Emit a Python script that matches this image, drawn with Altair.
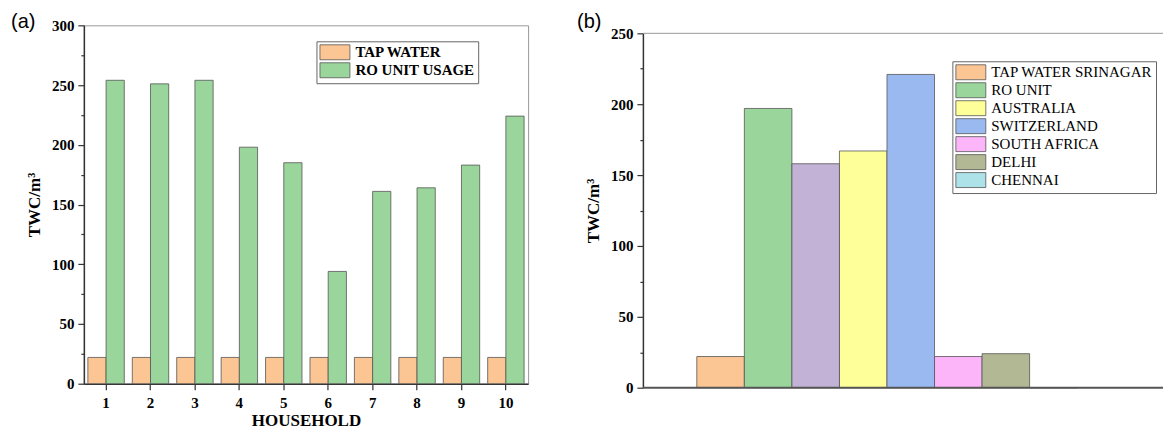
import altair as alt
import pandas as pd

# ---------------- data ----------------
households = [1, 2, 3, 4, 5, 6, 7, 8, 9, 10]
tap_water = [22, 22, 22, 22, 22, 22, 22, 22, 22, 22]
ro_usage = [254, 251, 254, 198, 185, 94, 161, 164, 183, 224]
series_a = ["TAP WATER", "RO UNIT USAGE"]
colors_a = ["#FCC594", "#9AD69B"]

sites_b = ["TAP WATER SRINAGAR", "RO UNIT", "UNLABELED", "AUSTRALIA",
           "SWITZERLAND", "SOUTH AFRICA", "DELHI", "CHENNAI"]
values_b = [22, 197, 158, 167, 221, 22, 24, 0]
legend_b = ["TAP WATER SRINAGAR", "RO UNIT", "AUSTRALIA", "SWITZERLAND",
            "SOUTH AFRICA", "DELHI", "CHENNAI"]
colors_b = ["#FCC594", "#9AD69B", "#FFFF99", "#9AB9F1", "#FDB5F9", "#B2B894", "#ADE3E8"]
unlabeled_color = "#C1B2D6"

# ---------------- tables ----------------
df_a = pd.DataFrame({
    "household": households * 2,
    "series": [series_a[0]] * len(households) + [series_a[1]] * len(households),
    "value": tap_water + ro_usage,
})
df_b = pd.DataFrame({"site": sites_b, "value": values_b})
df_b_main = df_b[df_b["site"] != "UNLABELED"]
df_b_extra = df_b[df_b["site"] == "UNLABELED"]

SERIF = "Liberation Serif"
AX = "#333333"
RECT = "M-1,-1H3V1H-1Z"   # wide legend swatch

WA, HA = 445, 359
WB, HB = 521, 363
TOPB = 8  # right panel plot top offset inside its group

def y_axis(maxv):
    return alt.Axis(
        values=list(range(0, maxv + 1, 25)),
        labelExpr="datum.value % 50 ? '' : datum.label",
        tickSize={"condition": {"test": "datum.value % 50", "value": 3}, "value": 6},
        title="TWC/m³", titleFont=SERIF, titleFontWeight="bold", titleFontSize=17,
        titleColor="black", titlePadding=8,
        labelFont=SERIF, labelFontWeight="bold", labelFontSize=15, labelColor="black",
        labelPadding=4, domainColor=AX, domainWidth=1.5, tickColor=AX, tickWidth=1.2,
        grid=False,
    )

def legend(x, y, bold, row_pad):
    kw = dict(labelFontWeight="bold") if bold else {}
    return alt.Legend(
        orient="none", legendX=x, legendY=y, title=None,
        symbolType=RECT, symbolSize=225, symbolStrokeColor="#555555",
        symbolStrokeWidth=0.8, symbolOpacity=1,
        labelFont=SERIF, labelFontSize=15, labelColor="black", labelLimit=400,
        strokeColor="#666666", fillColor="white",
        padding=3, rowPadding=row_pad, labelOffset=20, **kw)

# ---------------- panel (a) ----------------
bars_a = alt.Chart(df_a).mark_bar(stroke="#555555", strokeWidth=0.8).encode(
    x=alt.X("household:O",
            scale=alt.Scale(paddingInner=0.18, paddingOuter=0.09),
            axis=alt.Axis(labelAngle=0, title="HOUSEHOLD", titleFont=SERIF,
                          titleFontWeight="bold", titleFontSize=17, titleColor="black",
                          titlePadding=2,
                          labelFont=SERIF, labelFontWeight="bold", labelFontSize=15,
                          labelColor="black", labelPadding=6, tickSize=6,
                          domainColor=AX, domainWidth=1.5, tickColor=AX, tickWidth=1.2)),
    xOffset=alt.XOffset("series:N", sort=series_a,
                        scale=alt.Scale(paddingInner=0, paddingOuter=0)),
    y=alt.Y("value:Q", scale=alt.Scale(domain=[0, 300], nice=False), axis=y_axis(300)),
    color=alt.Color("series:N", sort=series_a,
                    scale=alt.Scale(domain=series_a, range=colors_a),
                    legend=legend(233, 16, True, -2)),
)
label_a = alt.Chart(pd.DataFrame({"t": ["(a)"]})).mark_text(
    font="Liberation Sans", fontSize=20, align="left", baseline="alphabetic", color="black"
).encode(text="t:N", x=alt.value(-73), y=alt.value(3))

panel_a = alt.layer(bars_a, label_a).properties(
    width=WA, height=HA, view=alt.ViewBackground(stroke="#999999", strokeWidth=1))

# ---------------- panel (b) ----------------
xb = alt.X("site:N", sort=sites_b,
           scale=alt.Scale(domain=sites_b, paddingInner=0, paddingOuter=0, range=[54, 435]),
           axis=None)
yb = alt.Y("value:Q", scale=alt.Scale(domain=[0, 250], nice=False, range=[HB, TOPB]),
           axis=y_axis(250))

bars_b = alt.Chart(df_b_main).mark_bar(stroke="#555555", strokeWidth=0.8).encode(
    x=xb, y=yb,
    color=alt.Color("site:N",
                    scale=alt.Scale(domain=legend_b, range=colors_b),
                    legend=legend(310, 28 + TOPB, False, -2)),
)
bars_b_extra = alt.Chart(df_b_extra).mark_bar(
    stroke="#555555", strokeWidth=0.8, color=unlabeled_color).encode(x=xb, y=yb)

top_line = alt.Chart(pd.DataFrame({"t": [0]})).mark_rule(color="#999999", strokeWidth=1).encode(
    x=alt.value(0), x2=alt.value(WB), y=alt.value(TOPB))
base_line = alt.Chart(pd.DataFrame({"t": [0]})).mark_rule(color="#555555", strokeWidth=2).encode(
    x=alt.value(0), x2=alt.value(WB), y=alt.value(HB))
label_b = alt.Chart(pd.DataFrame({"t": ["(b)"]})).mark_text(
    font="Liberation Sans", fontSize=20, align="left", baseline="alphabetic", color="black"
).encode(text="t:N", x=alt.value(-66), y=alt.value(3))

panel_b = alt.layer(bars_b, bars_b_extra, top_line, base_line, label_b).properties(
    width=WB, height=HB, view=alt.ViewBackground(stroke=None))

chart = alt.hconcat(panel_a, panel_b, spacing=48).resolve_scale(
    color="independent"
).properties(
    padding={"left": 2, "top": 3, "right": 0, "bottom": 0}
).configure_view(stroke=None).configure(background="white")

chart.save("out.html", embed_options={"renderer": "svg", "actions": False})
